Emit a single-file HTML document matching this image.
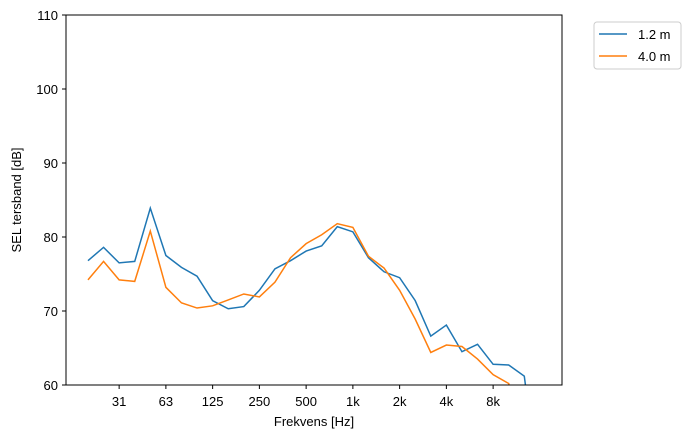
<!DOCTYPE html>
<html><head><meta charset="utf-8"><style>html,body{margin:0;padding:0;background:#fff;overflow:hidden}svg{display:block;font-family:"Liberation Sans","DejaVu Sans",sans-serif}</style></head>
<body>
<svg id="c" width="693" height="438" xmlns="http://www.w3.org/2000/svg">
<defs><clipPath id="pa"><rect x="66" y="15" width="496" height="370"/></clipPath></defs>
<rect x="0" y="0" width="693" height="438" fill="#fff"/>
<g id="series" clip-path="url(#pa)"></g>
<rect x="66" y="15" width="496" height="370" fill="none" stroke="#000" stroke-width="1"/>
<g id="axes" font-size="13"></g>
<text x="314" y="426" font-size="13" text-anchor="middle">Frekvens [Hz]</text>
<text x="21" y="200" font-size="13" text-anchor="middle" transform="rotate(-90 21 200)">SEL tersband [dB]</text>
<g>
<rect x="594" y="22" width="87" height="47" rx="3" fill="#fff" stroke="#ccc"/>
<line x1="599" y1="34" x2="627" y2="34" stroke="#1f77b4" stroke-width="1.5"/>
<text x="638" y="39" font-size="13">1.2 m</text>
<line x1="599" y1="56" x2="627" y2="56" stroke="#ff7f0e" stroke-width="1.5"/>
<text x="638" y="61" font-size="13">4.0 m</text>
</g>
</svg>
<script>
const bands = ["20","25","31.5","40","50","63","80","100","125","160","200","250","315","400","500","630","800","1k","1.25k","1.6k","2k","2.5k","3.15k","4k","5k","6.3k","8k","10k","12.5k","16k"];
const series12 = [76.8,78.6,76.5,76.7,83.9,77.5,75.9,74.7,71.4,70.3,70.6,72.8,75.7,76.8,78.1,78.8,81.4,80.7,77.2,75.3,74.5,71.4,66.6,68.1,64.5,65.5,62.8,62.7,61.2,45];
const series40 = [74.2,76.7,74.2,74.0,80.8,73.2,71.1,70.4,70.7,71.5,72.3,71.9,73.9,77.2,79.1,80.3,81.8,81.3,77.4,75.8,72.8,68.9,64.4,65.4,65.2,63.5,61.4,60.2,50,45];
const xTickIdx = [2,5,8,11,14,17,20,23,26];
const xTickLabels = ["31","63","125","250","500","1k","2k","4k","8k"];
const yTicks = [60,70,80,90,100,110];
const NS="http://www.w3.org/2000/svg";
const X0=66,X1=562,Y0=385,Y1=15,xmin=-1.41,xmax=30.42,ymin=60,ymax=110;
const xs=i=>X0+(i-xmin)/(xmax-xmin)*(X1-X0);
const ys=v=>Y0-(v-ymin)/(ymax-ymin)*(Y0-Y1);
function mk(t,a,p){const e=document.createElementNS(NS,t);for(const k in a)e.setAttribute(k,a[k]);p.appendChild(e);return e;}
const ax=document.getElementById('axes');
xTickIdx.forEach((ix,j)=>{const x=xs(ix);
const l=mk('line',{x1:x,y1:385,x2:x,y2:389,stroke:'#000'},ax);


const t=mk('text',{x:x,y:406,'text-anchor':'middle'},ax);t.textContent=xTickLabels[j];

});
yTicks.forEach(v=>{const y=ys(v);
const l=mk('line',{x1:62,y1:y,x2:66,y2:y,stroke:'#000'},ax);


const t=mk('text',{x:58,y:y+5,'text-anchor':'end'},ax);t.textContent=v;

});
const sg=document.getElementById('series');
[[series12,'#1f77b4','line-1-2m'],[series40,'#ff7f0e','line-4-0m']].forEach(([d,c,n])=>{
const p=mk('polyline',{points:d.map((v,i)=>xs(i)+','+ys(v)).join(' '),fill:'none',stroke:c,'stroke-width':1.5},sg);

});
</script>
</body></html>
